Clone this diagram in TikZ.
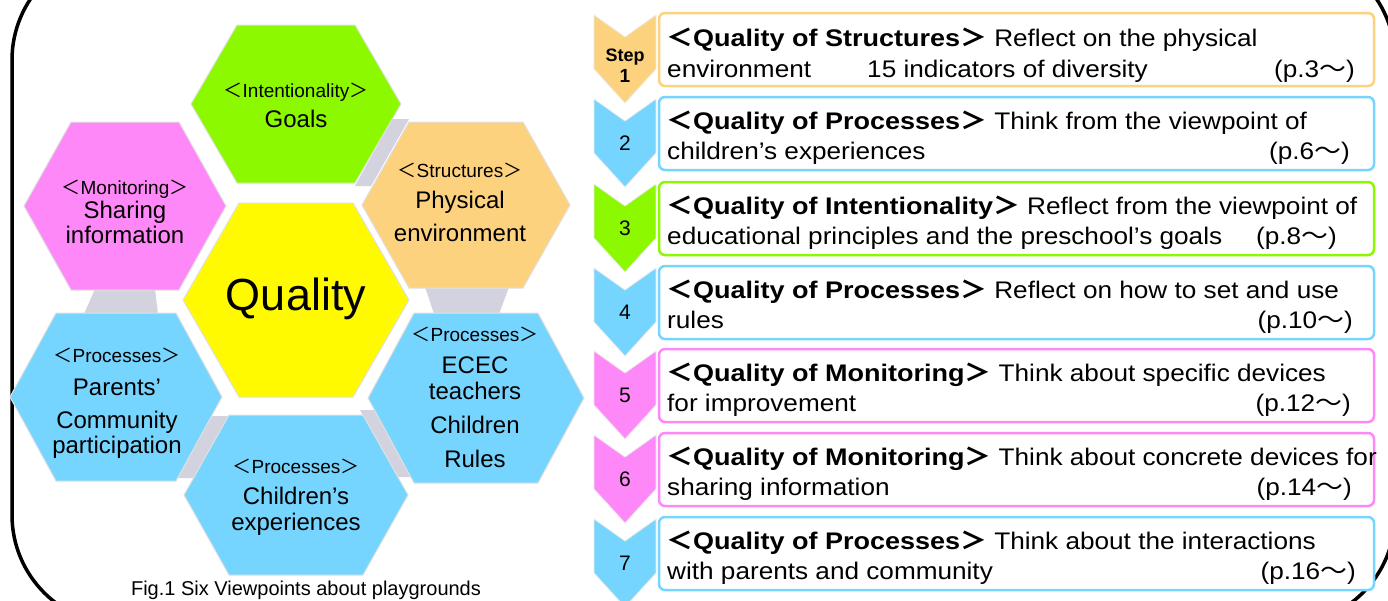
\documentclass[tikz,border=0pt]{standalone}
\usepackage{fontspec}
\setmainfont{Liberation Sans}
\newfontfamily\cjk{Noto Sans CJK JP}
\newfontfamily\boxfont[FakeStretch=1.09]{Liberation Sans}
\newfontfamily\boxbold[FakeStretch=1.125]{Liberation Sans Bold}
\newfontfamily\cjkbox[FakeStretch=1.12]{Noto Sans CJK JP}
\newcommand\HL{{\cjk ＜}}
\newcommand\HR{{\cjk ＞}}
\newcommand\BL{{\cjkbox\bfseries ＜}}
\newcommand\BR{{\cjkbox\bfseries ＞}}
\newcommand\BT{{\cjkbox ～}}
\newcommand\QT[1]{\BL{\boxbold #1}\BR}
\definecolor{cgreen}{HTML}{8CF900}
\definecolor{cpink}{HTML}{FF88F8}
\definecolor{corange}{HTML}{FDD27F}
\definecolor{cyellow}{HTML}{FFFA00}
\definecolor{cblue}{HTML}{76D5FF}
\definecolor{cgrey}{HTML}{D3D3E0}
\newcommand\hexa[6]{\path[fill=#6, draw=black!12, line width=1pt]
  ({#1-#3},#2) -- ({#1-#4},{#2-#5}) -- ({#1+#4},{#2-#5}) -- ({#1+#3},#2)
  -- ({#1+#4},{#2+#5}) -- ({#1-#4},{#2+#5}) -- cycle;}
\newcommand\chev[2]{\path[fill=#2, draw=black!8, line width=0.8pt]
  (594,#1) -- (625,{#1+22}) -- (656,#1) -- (656,{#1+54}) -- (625,{#1+88}) -- (594,{#1+54}) -- cycle;}
\newcommand\stbox[2]{\path[draw=#2, line width=2.5pt, rounded corners=6pt, fill=white]
  (659,{#1-2}) rectangle (1374,{#1+71});}
\newcommand\boxtext[6]{%
  \node[btxt, anchor=base west] (#1a) at (666,{#2+30}) {#3};
  \node[btxt, anchor=base west] (#1b) at (667,{#2+60}) {#4};
  \node[btxt, anchor=base east] (#1c) at (#6,{#2+60}) {(p.#5\BT)};}
\tikzset{
  hs/.style={inner sep=0, anchor=base, font=\fontsize{19}{22}\selectfont},
  hb/.style={inner sep=0, anchor=base, font=\fontsize{24}{28}\selectfont},
  btxt/.style={inner sep=0, font=\boxfont\fontsize{24}{28}\selectfont},
  num/.style={inner sep=0, anchor=base, font=\fontsize{21}{24}\selectfont},
}
\begin{document}
\begin{tikzpicture}[x=1pt,y=-1pt]
\useasboundingbox (0,0) rectangle (1388,600);
\clip (0,0) rectangle (1388,600);
\fill[white] (0,0) rectangle (1388,600);
% outer border
\draw[line width=3.5pt, rounded corners=110pt] (12,-50) rectangle (1395,625);
% grey links
\fill[cgrey] (392,119) -- (409,119) -- (371,186) -- (355,186) -- cycle;
\fill[cgrey] (95,289) -- (155,289) -- (158,314) -- (84,314) -- cycle;
\fill[cgrey] (425,287) -- (509,287) -- (499,314) -- (434,314) -- cycle;
\fill[cgrey] (208,416) -- (232,416) -- (196,478) -- (174,478) -- cycle;
\fill[cgrey] (360,410) -- (378,410) -- (413,477) -- (397,477) -- cycle;
% hexagons
\hexa{296}{104}{105}{59}{79}{cgreen}
\hexa{125}{206}{101}{54}{84}{cpink}
\hexa{466}{205}{104}{57}{83}{corange}
\hexa{296}{300}{113}{57}{97}{cyellow}
\hexa{116}{397}{106}{60}{84}{cblue}
\hexa{476}{398}{108}{62}{85}{cblue}
\hexa{296}{495}{112}{67}{80}{cblue}
% hexagon texts
\node[hs] (g1) at (296,97) {\HL Intentionality\HR};
\node[hb] (g2) at (296,127) {Goals};
\node[hs] (m1) at (125,194) {\HL Monitoring\HR};
\node[hb] (m2) at (125,218) {Sharing};
\node[hb] (m3) at (125,243) {information};
\node[hs] (o1) at (460,177) {\HL Structures\HR};
\node[hb] (o2) at (460,208) {Physical};
\node[hb] (o3) at (460,241) {environment};
\node[inner sep=0, anchor=base, font=\fontsize{45}{50}\selectfont] (q) at (296,310) {Quality};
\node[hs] (p1) at (117,362) {\HL Processes\HR};
\node[hb] (p2) at (117,395) {Parents’};
\node[hb] (p3) at (117,428) {Community};
\node[hb] (p4) at (117,453) {participation};
\node[hs] (e1) at (475,341) {\HL Processes\HR};
\node[hb] (e2) at (475,373) {ECEC};
\node[hb] (e3) at (475,399) {teachers};
\node[hb] (e4) at (475,433) {Children};
\node[hb] (e5) at (475,467) {Rules};
\node[hs] (c1) at (296,473) {\HL Processes\HR};
\node[hb] (c2) at (296,504) {Children’s};
\node[hb] (c3) at (296,530) {experiences};
\node[inner sep=0, anchor=base, font=\fontsize{20}{24}\selectfont] (cap) at (306,595) {Fig.1 Six Viewpoints about playgrounds};
% chevrons
\chev{15}{corange}
\chev{99}{cblue}
\chev{184}{cgreen}
\chev{268}{cblue}
\chev{351}{cpink}
\chev{435}{cpink}
\chev{519}{cblue}
\node[inner sep=0, anchor=base, font=\bfseries\fontsize{18}{22}\selectfont] (s1a) at (625,61) {Step};
\node[inner sep=0, anchor=base, font=\bfseries\fontsize{19}{22}\selectfont] (s1b) at (625,82) {1};
\node[num] (s2) at (625,150) {2};
\node[num] (s3) at (625,235) {3};
\node[num] (s4) at (625,319) {4};
\node[num] (s5) at (625,402) {5};
\node[num] (s6) at (625,486) {6};
\node[num] (s7) at (625,570) {7};
% boxes
\stbox{15}{corange}
\stbox{99}{cblue}
\stbox{184}{cgreen}
\stbox{268}{cblue}
\stbox{351}{cpink}
\stbox{435}{cpink}
\stbox{519}{cblue}
\node[btxt, anchor=base west] (b1a) at (666,46) {\QT{Quality of Structures} Reflect on the physical};
\node[btxt, anchor=base west] (b1b) at (667,77) {environment};
\node[btxt, anchor=base west] (b1d) at (867,77) {15 indicators of diversity};
\node[btxt, anchor=base east] (b1c) at (1355,77) {(p.3\BT)};
\boxtext{b2}{99}{\QT{Quality of Processes} Think from the viewpoint of}{children’s experiences}{6}{1350}
\boxtext{b3}{184}{\QT{Quality of Intentionality} Reflect from the viewpoint of}{educational principles and the preschool’s goals}{8}{1337}
\boxtext{b4}{268}{\QT{Quality of Processes} Reflect on how to set and use}{rules}{10}{1353}
\boxtext{b5}{351}{\QT{Quality of Monitoring} Think about specific devices}{for improvement}{12}{1351}
\boxtext{b6}{435}{\QT{Quality of Monitoring} Think about concrete devices for}{sharing information}{14}{1352}
\boxtext{b7}{519}{\QT{Quality of Processes} Think about the interactions}{with parents and community}{16}{1356}
\end{tikzpicture}
\end{document}
